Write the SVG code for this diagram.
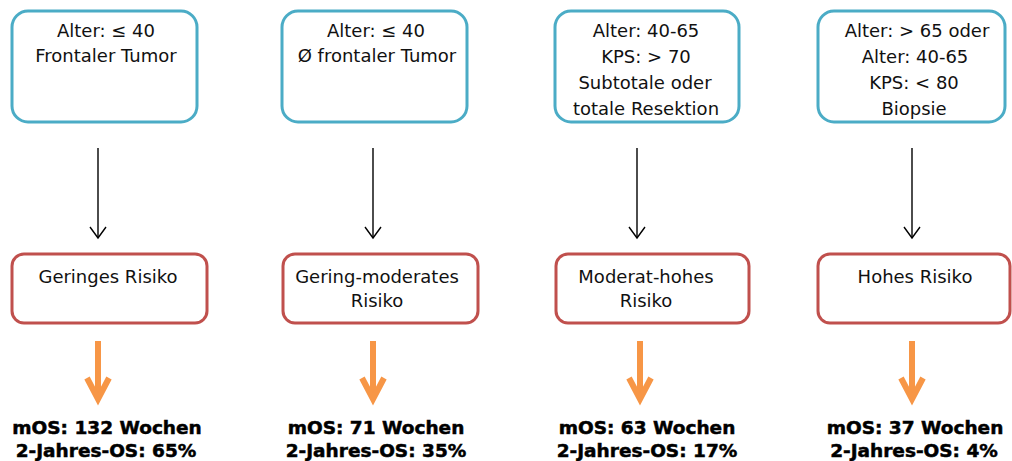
<svg xmlns="http://www.w3.org/2000/svg" width="1012" height="461" viewBox="0 0 1012 461">
<style>
.crit{fill:#fff;stroke:#4BACC6;stroke-width:3}
.risk{fill:#fff;stroke:#C0504D;stroke-width:3}
.t{font-family:"DejaVu Sans",Verdana,sans-serif;font-size:18px;fill:#111;text-anchor:middle}
.b{font-family:"DejaVu Sans",Verdana,sans-serif;font-size:18.5px;font-weight:bold;fill:#000;stroke:#000;stroke-width:0.5;text-anchor:middle}
.blk{stroke:#000;stroke-width:1.4;fill:none}
.org{stroke:#F79646;stroke-width:6;fill:none}
</style>
<rect width="1012" height="461" fill="#fff"/>
<g id="connectors">
  <g class="blk">
    <line x1="98" y1="148" x2="98" y2="238"/><polyline points="90,227 98,238 106,227"/>
    <line x1="373" y1="148" x2="373" y2="238"/><polyline points="365,227 373,238 381,227"/>
    <line x1="637" y1="148" x2="637" y2="238"/><polyline points="629,227 637,238 645,227"/>
    <line x1="912" y1="148" x2="912" y2="238"/><polyline points="904,227 912,238 920,227"/>
  </g>
  <g class="org">
    <line x1="98" y1="341" x2="98" y2="396"/><polyline points="87,378 98,399 109,378"/>
    <line x1="373" y1="341" x2="373" y2="396"/><polyline points="362,378 373,399 384,378"/>
    <line x1="640" y1="341" x2="640" y2="396"/><polyline points="629,378 640,399 651,378"/>
    <line x1="912" y1="341" x2="912" y2="396"/><polyline points="901,378 912,399 923,378"/>
  </g>
</g>
<g id="crit1"><rect class="crit" x="12" y="11" width="185" height="111" rx="16"/>
  <text class="t" x="106" y="37">Alter: ≤ 40</text><text class="t" x="106" y="62">Frontaler Tumor</text></g>
<g id="crit2"><rect class="crit" x="282" y="11" width="185" height="111" rx="16"/>
  <text class="t" x="376" y="37">Alter: ≤ 40</text><text class="t" x="377" y="62">Ø frontaler Tumor</text></g>
<g id="crit3"><rect class="crit" x="555" y="11" width="184" height="111" rx="16"/>
  <text class="t" x="646" y="37">Alter: 40-65</text><text class="t" x="646" y="63">KPS: &gt; 70</text>
  <text class="t" x="645" y="89">Subtotale oder</text><text class="t" x="646" y="115">totale Resektion</text></g>
<g id="crit4"><rect class="crit" x="818" y="11" width="187" height="111" rx="16"/>
  <text class="t" x="917" y="37">Alter: &gt; 65 oder</text><text class="t" x="915" y="63">Alter: 40-65</text>
  <text class="t" x="914" y="89">KPS:  &lt; 80</text><text class="t" x="914" y="115">Biopsie</text></g>
<g id="risk1"><rect class="risk" x="12" y="254" width="195" height="69" rx="12"/>
  <text class="t" x="108" y="283">Geringes Risiko</text></g>
<g id="risk2"><rect class="risk" x="283" y="254" width="195" height="69" rx="12"/>
  <text class="t" x="377" y="283">Gering-moderates</text><text class="t" x="377" y="307">Risiko</text></g>
<g id="risk3"><rect class="risk" x="556" y="254" width="193" height="69" rx="12"/>
  <text class="t" x="646" y="283">Moderat-hohes</text><text class="t" x="646" y="307">Risiko</text></g>
<g id="risk4"><rect class="risk" x="818" y="254" width="192" height="69" rx="12"/>
  <text class="t" x="915" y="283">Hohes Risiko</text></g>
<g id="out1"><text class="b" x="107" y="434">mOS: 132 Wochen</text><text class="b" x="106" y="457">2-Jahres-OS: 65%</text></g>
<g id="out2"><text class="b" x="376" y="434">mOS: 71 Wochen</text><text class="b" x="376" y="457">2-Jahres-OS: 35%</text></g>
<g id="out3"><text class="b" x="647" y="434">mOS: 63 Wochen</text><text class="b" x="647" y="457">2-Jahres-OS: 17%</text></g>
<g id="out4"><text class="b" x="915" y="434">mOS: 37 Wochen</text><text class="b" x="914" y="457">2-Jahres-OS: 4%</text></g>
</svg>
